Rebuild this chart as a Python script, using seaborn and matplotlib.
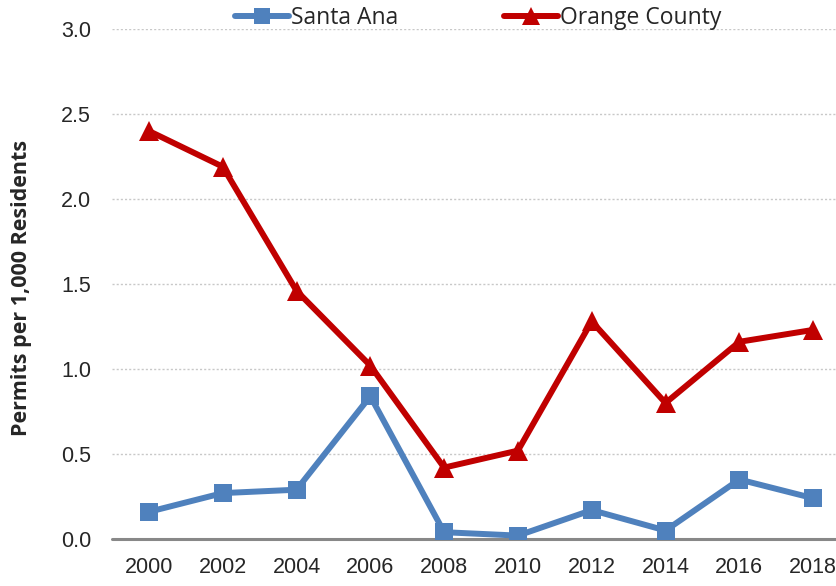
import pandas as pd
import matplotlib
matplotlib.use("Agg")
import matplotlib.pyplot as plt
import seaborn as sns

# permits per 1,000 residents
years = [2000, 2002, 2004, 2006, 2008, 2010, 2012, 2014, 2016, 2018]
santa_ana = [0.16, 0.27, 0.29, 0.84, 0.04, 0.02, 0.17, 0.05, 0.35, 0.24]
orange_county = [2.40, 2.19, 1.46, 1.02, 0.42, 0.52, 1.28, 0.80, 1.16, 1.23]
y_ticks = [0.0, 0.5, 1.0, 1.5, 2.0, 2.5, 3.0]

sns.set_style("white")

df_sa = pd.DataFrame({"year": years, "value": santa_ana})
df_oc = pd.DataFrame({"year": years, "value": orange_county})

fig = plt.figure(figsize=(8.36, 5.86), dpi=100)
ax = fig.add_axes([0.134, 0.0802, 0.866, 0.8703])

sns.lineplot(data=df_sa, x="year", y="value", ax=ax, color="#4F81BD",
             linewidth=4.3, marker="s", markersize=13, markeredgewidth=0,
             label="Santa Ana", zorder=3)
sns.lineplot(data=df_oc, x="year", y="value", ax=ax, color="#C00000",
             linewidth=4.3, marker="^", markersize=15, markeredgewidth=0,
             label="Orange County", zorder=3)

ax.set_xlim(1999, 2018.62)
ax.set_ylim(0, 3.0)
ax.set_xticks(years)
ax.set_xticklabels([str(y) for y in years])
ax.set_yticks(y_ticks)
ax.set_yticklabels([f"{v:.1f}" for v in y_ticks])

tick_family = ["Liberation Sans Narrow", "Liberation Sans", "DejaVu Sans"]
for lab in ax.get_xticklabels() + ax.get_yticklabels():
    lab.set_fontfamily(tick_family)
    lab.set_fontsize(15.5)
ax.tick_params(axis="x", length=0, pad=13)
ax.tick_params(axis="y", length=0, pad=15)

ax.grid(axis="y", color="#C8C8C8", linestyle=(0, (1.5, 1.5)), linewidth=1.0)
ax.set_axisbelow(True)
for side in ["top", "right", "left", "bottom"]:
    ax.spines[side].set_visible(False)
ax.axhline(0, color="#888888", linewidth=2.2, clip_on=False, zorder=2)

ax.set_xlabel("")
ax.set_ylabel("")
fig.text(0.026, 0.509, "Permits per 1,000 Residents", rotation=90,
         ha="center", va="center", fontsize=15.5, fontweight="bold",
         family=["Open Sans", "DejaVu Sans"])

ax.legend(loc="center", bbox_to_anchor=(0.572, 0.969),
          bbox_transform=fig.transFigure, ncol=2, frameon=False,
          handlelength=2.35, handletextpad=0.1,
          columnspacing=4.6, markerscale=0.85,
          prop={"family": ["Open Sans", "DejaVu Sans"], "size": 16.5})

fig.savefig("out.png", dpi=100)
